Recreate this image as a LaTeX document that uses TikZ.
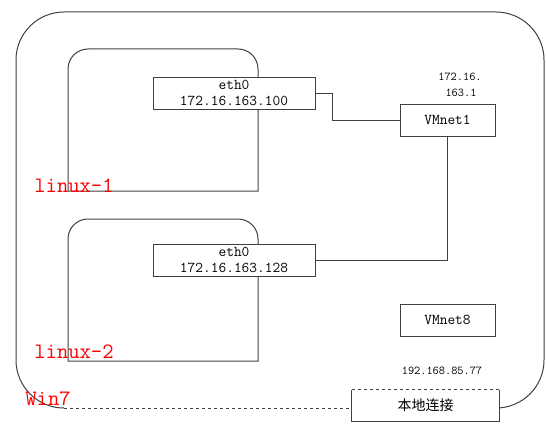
\documentclass[tikz,border=0pt]{standalone}
\usepackage{fontspec}
\newfontfamily\cjk{Noto Sans CJK SC}
\usetikzlibrary{positioning}

\begin{document}
\begin{tikzpicture}[
        x=1pt, y=-1pt,
        frame/.style={draw=black!75, line width=1pt},
        nic/.style={rectangle, frame, fill=white, minimum width=162pt, minimum height=32pt, inner sep=0pt, align=center, font=\ttfamily\fontsize{15}{17}\selectfont},
        vmnet/.style={rectangle, frame, fill=white, minimum width=95pt, minimum height=32pt, inner sep=0pt, font=\ttfamily\fontsize{15}{17}\selectfont},
        hostname/.style={text=red, font=\ttfamily\fontsize{22}{24}\selectfont, inner sep=0pt},
        addr/.style={font=\ttfamily\fontsize{12}{14}\selectfont, inner sep=0pt},
        link/.style={frame},
    ]
        \useasboundingbox (0,0) rectangle (546,428);

        \coordinate (host_sw) at (64,408);
        \draw[frame, rounded corners=48] (host_sw) -- (16,408) -- (16,12) -- (544,12) -- (544,408) -- (480,408);

        \draw[frame] (68,191) [rounded corners=20] -- (68,49) -- (258,49) [sharp corners] -- (258,191) -- cycle;
        \draw[frame] (68,361) [rounded corners=20] -- (68,219) -- (258,219) [sharp corners] -- (258,361) -- cycle;

        \node[nic] (eth_a) at (234,93) {eth0\\[-1pt]172.16.163.100};
        \node[nic] (eth_b) at (234,260) {eth0\\[-1pt]172.16.163.128};

        \node[vmnet] (vmnet1) at (447.5,120) {VMnet1};
        \node[vmnet] (vmnet8) at (447.5,320) {VMnet8};

        \node[addr] (vmnet1_ip1) at (460,77) {172.16.};
        \node[addr] (vmnet1_ip2) at (461,93) {163.1};
        \node[addr] (lan_ip) at (442,371) {192.168.85.77};

        \node[hostname] (linux_a) at (74,186) {linux-1};
        \node[hostname] (linux_b) at (74,352) {linux-2};
        \node[hostname] (win) at (48,399) {Win7};

        \node[rectangle, fill=white, minimum width=147pt, minimum height=31pt, inner sep=0pt, font=\cjk\fontsize{14}{16}\selectfont] (lan) at (425.5,405.5) {本地连接};
        \draw[frame] (lan.north west) -- (lan.south west) -- (lan.south east) -- (lan.north east);
        \draw[frame, dashed] (lan.north west) -- (lan.north east);
        \draw[frame, dashed] (host_sw) -- (host_sw -| lan.west);

        \draw[link] (eth_a.east) -- ++(17,0) |- (vmnet1.west);
        \draw[link] (eth_b.east) -| (vmnet1.south);
    \end{tikzpicture}
\end{document}
